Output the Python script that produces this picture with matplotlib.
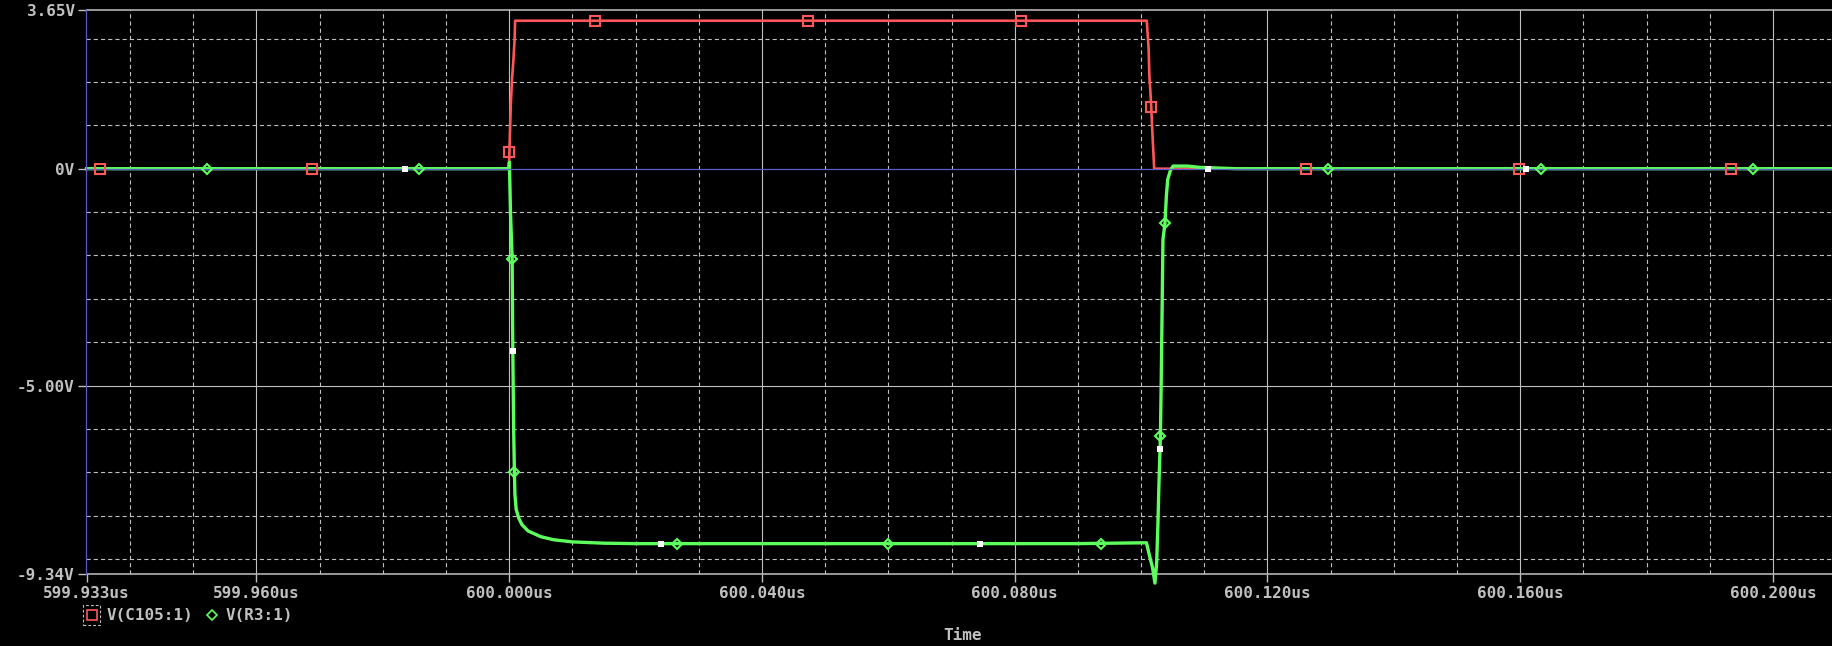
import numpy as np
import matplotlib
matplotlib.use('Agg')
import matplotlib.pyplot as plt
from matplotlib.lines import Line2D
from matplotlib.patches import Rectangle

# time in us, voltage in V
t_c105 = [599.9331, 599.99995, 600.00003, 600.00025, 600.00046, 600.00066, 600.00085, 600.00093,
          600.1009, 600.1012, 600.1013, 600.10155, 600.1018, 600.1020, 600.10207, 600.2095]
v_c105 = [0.0, 0.0, 0.38, 1.48, 2.1, 2.5, 2.97, 3.41,
          3.41, 2.74, 2.17, 1.59, 0.79, 0.21, 0.0, 0.0]

t_r3 = [599.9331, 599.99995, 600.00003, 600.0002, 600.00046, 600.00057, 600.0007, 600.00082,
        600.0009, 600.0011, 600.0015, 600.0020, 600.0030, 600.0050, 600.0070, 600.0100,
        600.0150, 600.0200, 600.0900, 600.10085, 600.1013, 600.10182, 600.10219, 600.10246,
        600.10266, 600.10282, 600.10306, 600.10319, 600.10346, 600.10378, 600.1040, 600.10421,
        600.10464, 600.10506, 600.10738, 600.10928, 600.1150, 600.2095]
v_r3 = [0.0, 0.0, 0.15, -1.0, -2.07, -4.2, -6.0, -6.99,
        -7.5, -7.85, -8.05, -8.2, -8.35, -8.48, -8.55, -8.6,
        -8.63, -8.64, -8.64, -8.62, -8.9, -9.2, -9.55, -9.1,
        -8.2, -7.3, -6.16, -4.84, -1.63, -1.26, -0.63, -0.25,
        -0.04, 0.06, 0.06, 0.03, 0.0, 0.0]

# symbol markers drawn on the traces
mk_c105_t = [599.93518, 599.96883, 600.0000, 600.01359, 600.04726, 600.08092, 600.10155,
             600.12603, 600.15973, 600.19336]
mk_c105_v = [0.0, 0.0, 0.38, 3.41, 3.41, 3.41, 1.42, 0.0, 0.0, 0.0]
mk_r3_t = [599.95216, 599.98579, 600.00046, 600.00082, 600.02652, 600.05999, 600.09368,
           600.10306, 600.10378, 600.12961, 600.16331, 600.19687]
mk_r3_v = [0.0, 0.0, -2.07, -6.99, -8.64, -8.64, -8.64, -6.16, -1.26, 0.0, 0.0, 0.0]
mk_pt_t = [599.98353, 600.00057, 600.02398, 600.07446, 600.10297, 600.11053, 600.16099]
mk_pt_v = [0.0, -4.2, -8.64, -8.64, -6.47, 0.0, 0.0]

x_ticks = [599.9331, 599.960, 600.000, 600.040, 600.080, 600.120, 600.160, 600.200]
x_labels = ['599.933us', '599.960us', '600.000us', '600.040us', '600.080us',
            '600.120us', '600.160us', '600.200us']
x_minor = [599.940, 599.950, 599.970, 599.980, 599.990, 600.010, 600.020, 600.030,
           600.050, 600.060, 600.070, 600.090, 600.100, 600.110, 600.130, 600.140,
           600.150, 600.170, 600.180, 600.190]
y_ticks = [3.65, 0.0, -5.0, -9.34]
y_labels = ['3.65V', '0V', '-5.00V', '-9.34V']
y_minor = [3, 2, 1, -1, -2, -3, -4, -6, -7, -8, -9]

RED = '#ff5757'
GREEN = '#5cff5c'
GRID = '#c0c0c0'
BLUE = '#5a5ac8'

plt.rcParams['font.family'] = 'DejaVu Sans Mono'
plt.rcParams['font.weight'] = 'bold'
plt.rcParams['lines.scale_dashes'] = False

fig = plt.figure(figsize=(18.33, 6.46), dpi=100, facecolor='black')
ax = fig.add_axes([86.5 / 1833, 1 - 574 / 646, 1 - 86.5 / 1833, (574 - 10.3) / 646])
ax.set_facecolor('black')

ax.set_xlim(599.9331, 600.2095)
ax.set_ylim(-9.34, 3.65)

ax.set_xticks(x_ticks)
ax.set_xticklabels(x_labels)
ax.set_yticks(y_ticks)
ax.set_yticklabels(y_labels)

ax.tick_params(colors=GRID, labelsize=11.5, length=5.5, width=1, direction='out', pad=3)

# grid: solid at labelled values, dashed in between
for x in x_ticks[1:]:
    ax.axvline(x, color=GRID, lw=0.8, zorder=1)
for x in x_minor:
    ax.axvline(x, color=GRID, lw=0.8, ls=(0, (3, 2.2)), zorder=1)
ax.axhline(-5.0, color=GRID, lw=0.8, zorder=1)
for y in y_minor:
    ax.axhline(y, color=GRID, lw=0.8, ls=(0, (3, 2.2)), zorder=1)

for s in ['top', 'bottom']:
    ax.spines[s].set_color(GRID)
    ax.spines[s].set_linewidth(1.1)
ax.spines['right'].set_visible(False)
ax.spines['left'].set_color(BLUE)
ax.spines['left'].set_linewidth(0.9)
ax.spines['left'].set_zorder(5)

ax.plot(t_c105, v_c105, color=RED, lw=1.9, zorder=2)
ax.plot(t_r3, v_r3, color=GREEN, lw=2.4, zorder=3, clip_on=False)
ax.axhline(0, color=BLUE, lw=0.9, zorder=4)

ax.plot(mk_c105_t, mk_c105_v, ls='none', marker='s', ms=6.5, mfc='none', mec=RED, mew=1.5, zorder=6)
ax.plot(mk_r3_t, mk_r3_v, ls='none', marker='D', ms=5.2, mfc='none', mec=GREEN, mew=1.5, zorder=6)
ax.plot(mk_pt_t, mk_pt_v, ls='none', marker='s', ms=4.3, color='white', mew=0, zorder=6)

# legend
W, H = 1833.0, 646.0
fig.add_artist(Rectangle((83 / W, 1 - 625 / H), 17 / W, 20 / H, transform=fig.transFigure,
                         fill=False, ec=GRID, lw=0.8, ls=(0, (2, 1.5))))
fig.add_artist(Line2D([92 / W], [1 - 615 / H], transform=fig.transFigure, ls='none', marker='s',
                      ms=6.5, mfc='none', mec=RED, mew=1.2))
fig.text(107 / W, 1 - 615 / H, 'V(C105:1)', color=GRID, fontsize=11.5, va='center', ha='left')
fig.add_artist(Line2D([212 / W], [1 - 615 / H], transform=fig.transFigure, ls='none', marker='D',
                      ms=5, mfc='none', mec=GREEN, mew=1.2))
fig.text(226 / W, 1 - 615 / H, 'V(R3:1)', color=GRID, fontsize=11.5, va='center', ha='left')
fig.text(963 / W, 1 - 636 / H, 'Time', color=GRID, fontsize=11.5, va='center', ha='center')

fig.savefig('out.png', dpi=100, facecolor='black')
